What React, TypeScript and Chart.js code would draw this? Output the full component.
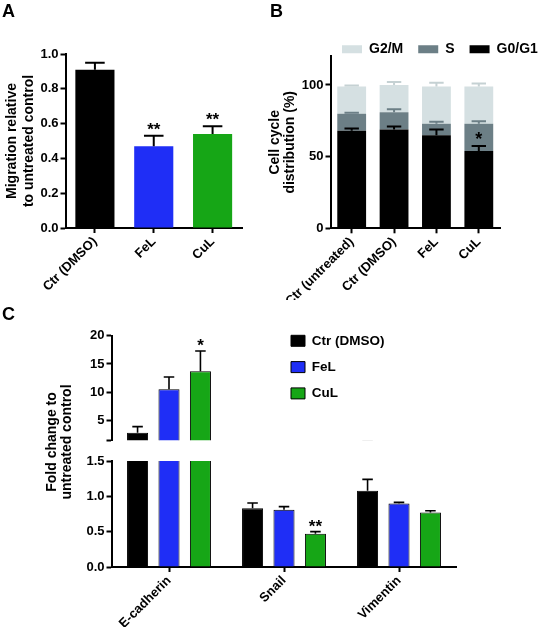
import React, { useEffect, useRef } from 'react';
import { Chart, registerables } from 'chart.js';

Chart.register(...registerables);

const FONT = "'Liberation Sans', Arial, Helvetica, sans-serif";

// ---------- Panel A data ----------
const migrationLabels = ['Ctr (DMSO)', 'FeL', 'CuL'];
const migrationValues = [0.91, 0.47, 0.54];
const migrationErrors = [0.04, 0.06, 0.045];
const migrationSig = ['', '**', '**'];
const migrationTicks = [0, 0.2, 0.4, 0.6, 0.8, 1.0];

// ---------- Panel B data ----------
const cycleLabels = ['Ctr (untreated)', 'Ctr (DMSO)', 'FeL', 'CuL'];
const phaseNames = ['G0/G1', 'S', 'G2/M'];
const g0g1Values = [68, 69, 65, 54];
const sValues = [12, 12, 8, 19];
const g2mValues = [19, 19, 26, 26];
const g0g1Errors = [1.7, 2, 4, 3.5];
const sErrors = [0.6, 2, 1.4, 1.6];
const g2mErrors = [0.6, 2, 2.5, 2];
const g0g1Sig = ['', '', '', '*'];
const cycleTicks = [0, 50, 100];

// ---------- Panel C data ----------
const geneLabels = ['E-cadherin', 'Snail', 'Vimentin'];
const seriesNames = ['Ctr (DMSO)', 'FeL', 'CuL'];
const ctrFold = [2.8, 0.83, 1.08];
const felFold = [10.5, 0.81, 0.9];
const culFold = [13.7, 0.47, 0.77];
const ctrFoldErr = [1.1, 0.075, 0.16];
const felFoldErr = [2.2, 0.045, 0.015];
const culFoldErr = [3.6, 0.03, 0.025];
const ctrSig = ['', '', ''];
const felSig = ['', '', ''];
const culSig = ['*', '**', ''];
const foldTicksUpper = [1.5, 5, 10, 15, 20];
const foldTicksLower = [0, 0.5, 1.0, 1.5];

// ---------- styles ----------
const BLACK = '#000000';
const BLUE = '#1f2ef6';
const GREEN = '#16a616';
const S_COLOR = '#6c7f86';
const G2M_COLOR = '#d5e0e2';
const G2M_ERR = '#c5d1d3';

Chart.defaults.font.family = FONT;
Chart.defaults.color = '#000';

const tickFont = { family: FONT, size: 13, weight: 'bold' as any };
const titleFont = (lh: number) => ({ family: FONT, size: 14, weight: 'bold' as any, lineHeight: lh });
const axisGrid = {
  display: true,
  drawOnChartArea: false,
  drawTicks: true,
  tickLength: 5,
  tickWidth: 2,
  tickColor: '#000',
  offset: false,
};
const axisBorder = { display: true, color: '#000', width: 2 };

const errorBarPlugin = {
  id: 'errorBars',
  afterDatasetsDraw(chart: any, _args: any, opts: any) {
    const { ctx, chartArea: area } = chart;
    chart.data.datasets.forEach((ds: any, i: number) => {
      if (!ds.errors) return;
      const meta = chart.getDatasetMeta(i);
      const yScale = chart.scales[meta.yAxisID];
      meta.data.forEach((bar: any, j: number) => {
        const err = ds.errors[j];
        const top = bar.y;
        const end = top - (yScale.getPixelForValue(0) - yScale.getPixelForValue(err));
        const half = bar.width * 0.25;
        ctx.save();
        ctx.beginPath();
        ctx.rect(area.left, area.top, area.right - area.left, area.bottom - area.top);
        ctx.clip();
        ctx.strokeStyle = ds.errorColor || '#000';
        ctx.lineWidth = opts.lineWidth || 2;
        ctx.beginPath();
        ctx.moveTo(bar.x, top);
        ctx.lineTo(bar.x, end);
        ctx.moveTo(bar.x - half, end);
        ctx.lineTo(bar.x + half, end);
        ctx.stroke();
        ctx.restore();
        const sig = ds.sig && ds.sig[j];
        if (sig && end >= area.top && end <= area.bottom) {
          ctx.save();
          ctx.fillStyle = '#000';
          ctx.font = `bold ${opts.sigSize || 17}px ${FONT}`;
          ctx.textAlign = 'center';
          ctx.textBaseline = 'alphabetic';
          ctx.fillText(sig, bar.x, end + (opts.sigOffset ?? 0));
          ctx.restore();
        }
      });
    });
  },
};

const legendPlacer = {
  id: 'legendPlacer',
  afterLayout(chart: any, _args: any, opts: any) {
    const lg = chart.legend;
    if (!lg || !opts || opts.left === undefined) return;
    lg.left = opts.left;
    lg.top = opts.top;
    lg.right = opts.left + 400;
    lg.bottom = opts.top + 200;
  },
};

function configA(): any {
  return {
    type: 'bar',
    data: {
      labels: migrationLabels,
      datasets: [
        {
          data: migrationValues,
          backgroundColor: [BLACK, BLUE, GREEN],
          borderWidth: 0,
          barPercentage: 0.665,
          categoryPercentage: 1,
          errors: migrationErrors,
          errorColor: BLACK,
          sig: migrationSig,
        },
      ],
    },
    options: {
      responsive: false,
      animation: false,
      events: [],
      layout: { padding: { left: 0, top: 54, right: 28, bottom: 0 } },
      plugins: {
        legend: { display: false },
        tooltip: { enabled: false },
        errorBars: { lineWidth: 2, sigSize: 17, sigOffset: -1 },
      },
      scales: {
        x: {
          grid: axisGrid,
          border: axisBorder,
          ticks: { font: tickFont, color: '#000', minRotation: 45, maxRotation: 45, padding: 1, autoSkip: false },
          afterFit: (s: any) => { s.height = 72; },
        },
        y: {
          min: 0,
          max: 1,
          afterBuildTicks: (s: any) => { s.ticks = migrationTicks.map((v) => ({ value: v })); },
          ticks: { font: tickFont, color: '#000', padding: 2, callback: (v: any) => Number(v).toFixed(1) },
          grid: axisGrid,
          border: axisBorder,
          title: {
            display: true,
            text: ['Migration relative', 'to untreated control'],
            font: titleFont(1.2),
            color: '#000',
            padding: { top: 4, bottom: 0 },
          },
          afterFit: (s: any) => { s.width = 65.5; },
        },
      },
    },
    plugins: [errorBarPlugin],
  };
}

function configB(): any {
  return {
    type: 'bar',
    data: {
      labels: cycleLabels,
      datasets: [
        { label: phaseNames[0], data: g0g1Values, backgroundColor: BLACK, borderWidth: 0, errors: g0g1Errors, errorColor: BLACK, sig: g0g1Sig },
        { label: phaseNames[1], data: sValues, backgroundColor: S_COLOR, borderWidth: 0, errors: sErrors, errorColor: S_COLOR },
        { label: phaseNames[2], data: g2mValues, backgroundColor: G2M_COLOR, borderWidth: 0, errors: g2mErrors, errorColor: G2M_ERR },
      ].map((d) => ({ ...d, barPercentage: 0.68, categoryPercentage: 1 })),
    },
    options: {
      responsive: false,
      animation: false,
      events: [],
      layout: { padding: { left: 0, top: 17.3, right: 43, bottom: 0 } },
      plugins: {
        legend: {
          display: true,
          position: 'top',
          align: 'start',
          reverse: true,
          labels: { boxWidth: 20, boxHeight: 8, padding: 15, color: '#000', font: { family: FONT, size: 14, weight: 'bold' } },
        },
        legendPlacer: { left: 61, top: 27.3 },
        tooltip: { enabled: false },
        errorBars: { lineWidth: 2, sigSize: 18, sigOffset: -1 },
      },
      scales: {
        x: {
          stacked: true,
          grid: axisGrid,
          border: axisBorder,
          ticks: { font: tickFont, color: '#000', minRotation: 45, maxRotation: 45, padding: 1, autoSkip: false },
          afterFit: (s: any) => { s.height = 71.7; },
        },
        y: {
          stacked: true,
          min: 0,
          max: 120,
          afterBuildTicks: (s: any) => { s.ticks = cycleTicks.map((v) => ({ value: v })); },
          ticks: { font: tickFont, color: '#000', padding: 2 },
          grid: axisGrid,
          border: axisBorder,
          title: {
            display: true,
            text: ['Cell cycle', 'distribution (%)'],
            font: titleFont(1.1),
            color: '#000',
            padding: { top: 1, bottom: 0 },
          },
          afterFit: (s: any) => { s.width = 64.5; },
        },
      },
    },
    plugins: [errorBarPlugin, legendPlacer],
  };
}

function foldDatasets(): any[] {
  const vals = [ctrFold, felFold, culFold];
  const errs = [ctrFoldErr, felFoldErr, culFoldErr];
  const sigs = [ctrSig, felSig, culSig];
  const cols = [BLACK, BLUE, GREEN];
  return seriesNames.map((name, i) => ({
    label: name,
    data: vals[i],
    backgroundColor: cols[i],
    borderColor: '#000',
    borderWidth: 1,
    barPercentage: 0.67,
    categoryPercentage: 0.82,
    errors: errs[i],
    errorColor: '#000',
    sig: sigs[i],
  }));
}

function configCTop(): any {
  return {
    type: 'bar',
    data: { labels: geneLabels, datasets: foldDatasets() },
    options: {
      responsive: false,
      animation: false,
      events: [],
      layout: { padding: { left: 0, top: 35.7, right: 86.5, bottom: 8 } },
      plugins: {
        legend: {
          display: true,
          position: 'chartArea',
          align: 'start',
          labels: { boxWidth: 14, boxHeight: 11, padding: 12.8, color: '#000', font: { family: FONT, size: 13.5, weight: 'bold' } },
        },
        legendPlacer: { left: 278.2, top: 21.25 },
        tooltip: { enabled: false },
        errorBars: { lineWidth: 1.6, sigSize: 17, sigOffset: 0 },
      },
      scales: {
        x: { display: false },
        y: {
          min: 1.5,
          max: 20,
          afterBuildTicks: (s: any) => { s.ticks = foldTicksUpper.map((v) => ({ value: v })); },
          ticks: { font: tickFont, color: '#000', padding: 2, callback: (v: any) => (Number(v) === 1.5 ? '' : String(v)) },
          grid: axisGrid,
          border: axisBorder,
          afterFit: (s: any) => { s.width = 111.5; },
        },
      },
    },
    plugins: [errorBarPlugin, legendPlacer],
  };
}

function configCBottom(): any {
  return {
    type: 'bar',
    data: { labels: geneLabels, datasets: foldDatasets() },
    options: {
      responsive: false,
      animation: false,
      events: [],
      layout: { padding: { left: 0, top: 11, right: 86.5, bottom: 0 } },
      plugins: {
        legend: { display: false },
        tooltip: { enabled: false },
        errorBars: { lineWidth: 1.6, sigSize: 17, sigOffset: 0 },
      },
      scales: {
        x: {
          grid: axisGrid,
          border: axisBorder,
          ticks: { font: tickFont, color: '#000', minRotation: 45, maxRotation: 45, padding: 1, autoSkip: false },
          afterFit: (s: any) => { s.height = 60; },
        },
        y: {
          min: 0,
          max: 1.5,
          afterBuildTicks: (s: any) => { s.ticks = foldTicksLower.map((v) => ({ value: v })); },
          ticks: { font: tickFont, color: '#000', padding: 2, callback: (v: any) => Number(v).toFixed(1) },
          grid: axisGrid,
          border: axisBorder,
          afterFit: (s: any) => { s.width = 111.5; },
        },
      },
    },
    plugins: [errorBarPlugin],
  };
}

const letterStyle = (left: number, top: number): React.CSSProperties => ({
  position: 'absolute',
  left,
  top,
  fontFamily: FONT,
  fontWeight: 'bold',
  fontSize: 18,
  lineHeight: '18px',
  color: '#000',
});

export default function App() {
  const aRef = useRef<HTMLCanvasElement>(null);
  const bRef = useRef<HTMLCanvasElement>(null);
  const cTopRef = useRef<HTMLCanvasElement>(null);
  const cBotRef = useRef<HTMLCanvasElement>(null);

  useEffect(() => {
    const charts = [
      new Chart(aRef.current as HTMLCanvasElement, configA()),
      new Chart(bRef.current as HTMLCanvasElement, configB()),
      new Chart(cTopRef.current as HTMLCanvasElement, configCTop()),
      new Chart(cBotRef.current as HTMLCanvasElement, configCBottom()),
    ];
    return () => charts.forEach((c) => c.destroy());
  }, []);

  return (
    <div style={{ position: 'absolute', left: 0, top: 0, width: 543, height: 627, background: '#fff', overflow: 'hidden' }}>
      <canvas ref={aRef} width={270} height={300} style={{ position: 'absolute', left: 0, top: 0 }} />
      <canvas ref={bRef} width={277} height={300} style={{ position: 'absolute', left: 266, top: 0 }} />
      <canvas ref={cTopRef} width={543} height={150} style={{ position: 'absolute', left: 0, top: 300 }} />
      <canvas ref={cBotRef} width={543} height={177} style={{ position: 'absolute', left: 0, top: 450 }} />
      <div style={letterStyle(2, 2)}>A</div>
      <div style={letterStyle(270, 2)}>B</div>
      <div style={letterStyle(2, 305)}>C</div>
      <div
        style={{
          position: 'absolute',
          left: 59 - 80,
          top: 442 - 15,
          width: 160,
          height: 30,
          transform: 'rotate(-90deg)',
          transformOrigin: '50% 50%',
          textAlign: 'center',
          fontFamily: FONT,
          fontWeight: 'bold',
          fontSize: 14,
          lineHeight: '14.5px',
          color: '#000',
          whiteSpace: 'nowrap',
        }}
      >
        Fold change to
        <br />
        untreated control
      </div>
    </div>
  );
}
